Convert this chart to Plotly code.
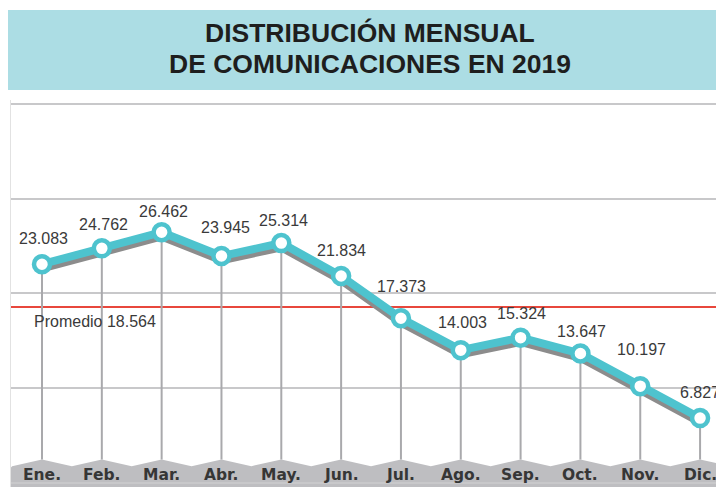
import plotly.graph_objects as go

# ---- data ----
months = ["Ene.", "Feb.", "Mar.", "Abr.", "May.", "Jun.",
          "Jul.", "Ago.", "Sep.", "Oct.", "Nov.", "Dic."]
values = [23083, 24762, 26462, 23945, 25314, 21834,
          17373, 14003, 15324, 13647, 10197, 6827]
promedio = 18564
title_lines = ["DISTRIBUCIÓN MENSUAL", "DE COMUNICACIONES EN 2019"]

# ---- styling ----
# the page body has an 8px margin, so the figure is drawn 8px smaller
W, H = 716, 479
ML, MT = 3, 92
PW, PH = W - ML, H - MT  # plot area size
TEAL = "#4EC3CE"
SHADOW = "#8C8C8C"
GRID = "#C8C8CA"
DROP = "#A9A9AC"
BAND = "#BEBEC1"
RED = "#E8473C"
TXT = "#3A3A3A"
label_lift = [26, 24, 21, 29, 23, 26, 32, 28, 24, 22, 37, 26]  # px above point
label_dx = [2, 2, 2, 4, 2, 0, 1, 2, 1, 1, 1, 0]
band_peak, band_valley = 2450, 1750
shadow_drop = 450


def fmt(v):
    return f"{v:,}".replace(",", ".")


def py(page_y):  # page pixel -> paper y
    return (H - (page_y - 8)) / PH


def px(page_x):  # page pixel -> paper x
    return ((page_x - 8) - ML) / PW


xs = list(range(len(months)))

fig = go.Figure()

# vertical drop lines from each point to the bottom band
dx, dy = [], []
for x, v in zip(xs, values):
    dx += [x, x, None]
    dy += [v, band_peak, None]
fig.add_trace(go.Scatter(x=dx, y=dy, mode="lines",
                         line=dict(color=DROP, width=2),
                         hoverinfo="skip", showlegend=False))

# shadow line
fig.add_trace(go.Scatter(x=xs, y=[v - shadow_drop for v in values], mode="lines",
                         line=dict(color=SHADOW, width=8),
                         hoverinfo="skip", showlegend=False))
# main line
fig.add_trace(go.Scatter(x=xs, y=values, mode="lines+markers",
                         line=dict(color=TEAL, width=8),
                         marker=dict(size=16, color="white",
                                     line=dict(color=TEAL, width=4.5)),
                         showlegend=False))

annotations = []
for x, v, lift, ddx in zip(xs, values, label_lift, label_dx):
    annotations.append(dict(x=x, y=v, xref="x", yref="y", text=fmt(v),
                            showarrow=False, yshift=lift, xshift=ddx,
                            font=dict(family="Liberation Sans, Arial", size=16, color=TXT)))
for x, m in zip(xs, months):
    annotations.append(dict(x=x, y=820, xref="x", yref="y", text=f"<b>{m}</b>",
                            showarrow=False, yanchor="middle", borderpad=0,
                            font=dict(family="DejaVu Sans", size=15.5, color="#363636")))
annotations.append(dict(x=px(32), y=promedio, xref="paper", yref="y",
                        text=f"Promedio {fmt(promedio)}", showarrow=False,
                        xanchor="left", yanchor="middle", yshift=-15,
                        font=dict(family="Liberation Sans, Arial", size=16, color=TXT)))
# title lines
for text, cy in zip(title_lines, [33, 64]):
    annotations.append(dict(x=px(370), y=py(cy), xref="paper", yref="paper",
                            text=f"<b>{text}</b>", showarrow=False,
                            xanchor="center", yanchor="middle",
                            font=dict(family="Liberation Sans, Arial", size=26.5,
                                      color="#1E1E1E")))

# bottom zig-zag band
n = len(months)
path = f"M -1,-2000 L -0.5,{band_valley}"
for i in range(n):
    path += f" L {i},{band_peak} L {i + 0.5},{band_valley}"
path += f" L {n + 1},{band_valley} L {n + 1},-2000 Z"

shapes = [
    dict(type="path", path=path, xref="x", yref="y", fillcolor=BAND,
         line=dict(width=0), layer="below"),
    dict(type="line", xref="paper", yref="y", x0=0, x1=1, y0=promedio, y1=promedio,
         line=dict(color=RED, width=2), layer="below"),
    # title band
    dict(type="rect", xref="paper", yref="paper",
         x0=px(8), x1=1.0, y0=py(90), y1=py(10),
         fillcolor="#ACDDE4", line=dict(width=0), layer="below"),
]

fig.update_layout(
    width=W, height=H,
    margin=dict(l=ML, r=0, t=MT, b=0),
    paper_bgcolor="white", plot_bgcolor="white",
    xaxis=dict(range=[-0.518, 11.40], showgrid=False, zeroline=False,
               showticklabels=False, fixedrange=True),
    yaxis=dict(range=[-454, 40430], dtick=10000, tick0=0, showgrid=True,
               gridcolor=GRID, gridwidth=2, zeroline=False, showticklabels=False,
               showline=True, linecolor="#E2E2E2", linewidth=1, fixedrange=True),
    annotations=annotations,
    shapes=shapes,
    hovermode=False,
)

fig.write_html("out.html", config={"displayModeBar": False})
